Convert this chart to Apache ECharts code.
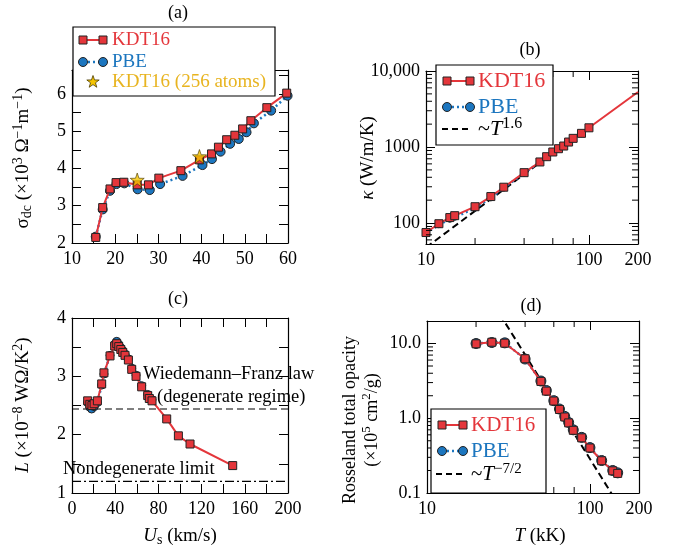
<!DOCTYPE html>
<html><head><meta charset="utf-8">
<script src="https://cdn.jsdelivr.net/npm/echarts@6/dist/echarts.min.js"></script>
<style>html,body{margin:0;padding:0;background:#fff}#c{width:675px;height:558px}</style>
</head><body><div id="c"></div>
<script>
// ---------- (a) conductivity vs T ----------
const aKdtT = [15.5,17.1,18.8,20.2,22.0,25.1,27.7,30.1,35.2,39.5,42.3,43.9,45.8,47.7,49.5,51.4,55.1,59.7];
const aKdtS = [2.15,2.95,3.45,3.62,3.63,3.56,3.56,3.74,3.94,4.23,4.39,4.57,4.77,4.89,5.06,5.28,5.63,6.02];
const aPbeT = [15.5,17.1,18.8,20.3,22.1,25.2,28.0,30.4,35.6,40.2,42.4,44.4,46.6,48.6,50.4,52.1,56.1,59.9];
const aPbeS = [2.17,2.90,3.40,3.58,3.60,3.44,3.42,3.58,3.80,4.09,4.25,4.45,4.66,4.79,4.97,5.21,5.55,5.95];
const aStarT = [25.1,39.5];
const aStarS = [3.69,4.32];
// ---------- (b) thermal conductivity ----------
const bT    = [10,12,14,15,20,25,30,40,50,55,60,65,70,75,80,90,100,200];
const bKdt  = [75,98,118,125,164,223,296,460,636,746,860,950,1030,1163,1300,1513,1790,5300];
const bPbe  = [74,95,112,119,157,214,288,452,630,740,855,945,1025,1155,1290,1500,1780];
const bFitT = [10,50];
const bFitK = [47.6,625];
// ---------- (c) Lorenz number vs Us ----------
const cKdtU = [14.5,16.5,18.5,20.5,23.5,27.5,29.6,35.2,39.5,41.4,43.3,45.2,47.0,49.1,52.2,55.3,59.3,64.5,70.1,71.6,74.1,87.7,98.5,109.3,148.8];
const cKdtL = [2.58,2.52,2.50,2.53,2.58,2.87,3.06,3.35,3.52,3.56,3.51,3.46,3.41,3.36,3.28,3.12,3.00,2.82,2.67,2.62,2.58,2.27,1.98,1.84,1.47];
const cPbeU = [14.5,16.5,18.2,20.5,23.5,27.5,29.6,35.2,39.5,41.4,43.3,45.2,47.0,49.1,52.2,55.3,59.3,64.5,70.1,74.1];
const cPbeL = [2.55,2.47,2.44,2.48,2.55,2.85,3.04,3.36,3.55,3.60,3.55,3.49,3.44,3.38,3.30,3.14,3.02,2.84,2.69,2.60];
const cWfU = [0,200];   const cWfL = [2.44,2.44];
const cNdU = [0,200];   const cNdL = [1.2,1.2];
// ---------- (d) Rosseland opacity ----------
const dT   = [20,25,30,40,50,54,60,65,70,74,79,89,100,118,138,148];
const dKdt = [9.9,10.4,10.1,6.25,3.11,2.31,1.70,1.31,1.04,0.867,0.69,0.547,0.40,0.27,0.198,0.183];
const dPbe = [10.0,10.3,10.2,6.2,3.15,2.35,1.72,1.33,1.06,0.88,0.70,0.555,0.405,0.272,0.2,0.186];
const dFitT = [28,140];
const dFitO = [24.6,0.088];
// ---------- tick values ----------
const aXTicks = {min:10,max:60,step:5,major:10};
const aYTicks = {min:2,max:6.64,step:0.5,major:1};
const cXTicks = {min:0,max:200,step:20,major:40};
const cYTicks = {min:1,max:4,step:0.5,major:1};
const logMinorT = [20,40,60,80];
const bMinorK = [60,70,80,90,200,300,400,500,600,700,800,900,2000,3000,4000,5000,6000,7000,8000,9000];
const dMinorO = [0.2,0.3,0.4,0.5,0.6,0.7,0.8,0.9,2,3,4,5,6,7,8,9];

const F = '"Liberation Serif","Times New Roman",serif';
const RED = '#e4363b', BLUE = '#1c76bf', GOLD = '#f5c400', GOLDTXT = '#e8b420', EDGE = '#222';

const zip = (a,b) => a.map((v,i)=>[v,b[i]]);
const isMult = (v,m) => Math.abs(v/m - Math.round(v/m)) < 1e-6;

function common(){
  return {
    axisLine:{show:true,onZero:false,lineStyle:{color:'#000',width:1.2}},
    axisTick:{show:true,inside:true,length:9,lineStyle:{color:'#000',width:1}},
    splitLine:{show:false},
    axisLabel:{fontFamily:F,fontSize:18,color:'#000'}
  };
}
function linAxis(g,pos,t,labels,margin){
  const ax = common();
  Object.assign(ax,{type:'value',gridIndex:g,position:pos,min:t.min,max:t.max,interval:t.step});
  Object.assign(ax.axisLabel,{show:labels,margin:margin,showMinLabel:true,showMaxLabel:true,
    formatter:v=>isMult(v,t.major)?String(Math.round(v)):''});
  return ax;
}
function logAxis(g,pos,min,max,labels,fmt,margin){
  const ax = common();
  Object.assign(ax,{type:'log',logBase:10,gridIndex:g,position:pos,min:min,max:max});
  Object.assign(ax.axisLabel,{show:labels,margin:margin,showMinLabel:true,showMaxLabel:true,formatter:fmt});
  return ax;
}
const fmtT = v => { const r = Math.round(v); return (r===10||r===100||r===200) ? String(r) : ''; };
const fmtK = v => { const r = Math.round(v); return r===100?'100':r===1000?'1000':r===10000?'10,000':''; };
const fmtO = v => Math.abs(v-0.1)<1e-6?'0.1':Math.abs(v-1)<1e-6?'1.0':Math.abs(v-10)<1e-5?'10.0':'';

function tickSeries(g,vals,side,xr,yr){
  const len = 6;
  const data = vals.map(v => side==='left'?[xr[0],v]:side==='right'?[xr[1],v]:side==='bottom'?[v,yr[0]]:[v,yr[1]]);
  return {type:'custom',xAxisIndex:2*g,yAxisIndex:2*g,silent:true,clip:false,z:6,data:data,
    renderItem:(p,api)=>{
      const c = api.coord([api.value(0),api.value(1)]);
      let x2=c[0], y2=c[1];
      if(side==='left') x2+=len; else if(side==='right') x2-=len; else if(side==='bottom') y2-=len; else y2+=len;
      return {type:'line',shape:{x1:c[0],y1:c[1],x2:x2,y2:y2},style:{stroke:'#000',lineWidth:1}};
    }};
}

const STAR = 'path://M0,-10 L2.35,-3.24 L9.51,-3.09 L3.8,1.24 L5.88,8.09 L0,4 L-5.88,8.09 L-3.8,1.24 L-9.51,-3.09 L-2.35,-3.24 Z';

function kdtSeries(g,data){
  return {type:'line',xAxisIndex:2*g,yAxisIndex:2*g,data:data,symbol:'rect',symbolSize:8,
    lineStyle:{color:RED,width:2},itemStyle:{color:RED,borderColor:EDGE,borderWidth:1},z:4};
}
function pbeSeries(g,data,size){
  return {type:'line',xAxisIndex:2*g,yAxisIndex:2*g,data:data,symbol:'circle',symbolSize:size,
    lineStyle:{color:BLUE,width:2.5,type:[2,3]},itemStyle:{color:BLUE,borderColor:EDGE,borderWidth:1},z:3};
}
function refLine(g,data,dash,width){
  return {type:'line',xAxisIndex:2*g,yAxisIndex:2*g,data:data,symbol:'none',
    lineStyle:{color:'#000',width:width,type:dash},z:2};
}

const grids = [
  {left:72,top:70,width:216,height:173},
  {left:426,top:71,width:212,height:173},
  {left:72,top:318,width:216,height:175},
  {left:427,top:321,width:212,height:172}
].map(g=>Object.assign(g,{containLabel:false,outerBoundsMode:'none'}));

const xAxis = [
  linAxis(0,'bottom',aXTicks,true,7), linAxis(0,'top',aXTicks,false,7),
  logAxis(1,'bottom',10,200,true,fmtT,7), logAxis(1,'top',10,200,false,fmtT,7),
  linAxis(2,'bottom',cXTicks,true,7), linAxis(2,'top',cXTicks,false,7),
  logAxis(3,'bottom',10,200,true,fmtT,7), logAxis(3,'top',10,200,false,fmtT,7)
];
const yAxis = [
  linAxis(0,'left',aYTicks,true,6), linAxis(0,'right',aYTicks,false,6),
  logAxis(1,'left',53,10000,true,fmtK,6), logAxis(1,'right',53,10000,false,fmtK,6),
  linAxis(2,'left',cYTicks,true,6), linAxis(2,'right',cYTicks,false,6),
  logAxis(3,'left',0.1,20,true,fmtO,6), logAxis(3,'right',0.1,20,false,fmtO,6)
];

const bKdtData = bT.map((t,i)=> t===200 ? {value:[t,bKdt[i]],symbol:'none'} : [t,bKdt[i]]);

const series = [
  // (a)
  pbeSeries(0,zip(aPbeT,aPbeS),9),
  kdtSeries(0,zip(aKdtT,aKdtS)),
  {type:'scatter',xAxisIndex:0,yAxisIndex:0,data:zip(aStarT,aStarS),symbol:STAR,symbolSize:14,
   itemStyle:{color:GOLD,borderColor:'#4a3b00',borderWidth:0.8},z:5},
  // (b)
  refLine(1,zip(bFitT,bFitK),[7,4],2),
  pbeSeries(1,zip(bT.slice(0,bPbe.length),bPbe),6),
  kdtSeries(1,bKdtData),
  // (c)
  refLine(2,zip(cWfU,cWfL),[7,4],1.2),
  refLine(2,zip(cNdU,cNdL),[9,3,2,3],1.2),
  pbeSeries(2,zip(cPbeU,cPbeL),8),
  kdtSeries(2,zip(cKdtU,cKdtL)),
  // (d)
  pbeSeries(3,zip(dT,dPbe),10),
  kdtSeries(3,zip(dT,dKdt)),
  refLine(3,zip(dFitT,dFitO),[7,4],2),
  // minor log ticks
  tickSeries(1,bMinorK,'left',[10,200],[53,10000]),
  tickSeries(1,bMinorK,'right',[10,200],[53,10000]),
  tickSeries(1,logMinorT,'bottom',[10,200],[53,10000]),
  tickSeries(1,logMinorT,'top',[10,200],[53,10000]),
  tickSeries(3,dMinorO,'left',[10,200],[0.1,20]),
  tickSeries(3,dMinorO,'right',[10,200],[0.1,20]),
  tickSeries(3,logMinorT,'bottom',[10,200],[0.1,20]),
  tickSeries(3,logMinorT,'top',[10,200],[0.1,20])
];

// ---------- graphic helpers ----------
function richSet(size){
  return {
    i:{fontFamily:F,fontSize:size,fontStyle:'italic',fill:'#000'},
    sub:{fontFamily:F,fontSize:Math.round(size*0.72),fill:'#000',padding:[9,0,0,0]},
    sup:{fontFamily:F,fontSize:Math.round(size*0.72),fill:'#000',padding:[0,0,10,0]}
  };
}
function txt(x,y,s,size,color,opt){
  opt = opt||{};
  const rich = richSet(size);
  if(color!=='#000'){ Object.keys(rich).forEach(k=>rich[k].fill=color); }
  return {type:'text',x:x,y:y,rotation:opt.rot||0,z:120,silent:true,
    style:{text:s,fontFamily:F,fontSize:size,fill:color,rich:rich,
      align:opt.align||'center',textAlign:opt.align||'center',
      verticalAlign:'middle',textVerticalAlign:'middle'}};
}
function box(x,y,w,h){ return {type:'rect',z:100,silent:true,shape:{x:x,y:y,width:w,height:h},style:{fill:'#fff',stroke:'#000',lineWidth:1.2}}; }
function seg(x1,x2,y,color,width,dash){ return {type:'line',z:101,silent:true,shape:{x1:x1,y1:y,x2:x2,y2:y},style:{stroke:color,lineWidth:width,lineDash:dash||null}}; }
function sq(cx,cy,s){ return {type:'rect',z:102,silent:true,shape:{x:cx-s/2,y:cy-s/2,width:s,height:s},style:{fill:RED,stroke:EDGE,lineWidth:1}}; }
function circ(cx,cy,r){ return {type:'circle',z:102,silent:true,shape:{cx:cx,cy:cy,r:r},style:{fill:BLUE,stroke:EDGE,lineWidth:1}}; }
function star(cx,cy,R){
  const pts=[]; for(let k=0;k<10;k++){ const r = k%2===0?R:R*0.4; const a = -Math.PI/2 + k*Math.PI/5; pts.push([cx+r*Math.cos(a),cy+r*Math.sin(a)]); }
  return {type:'polygon',z:102,silent:true,shape:{points:pts},style:{fill:GOLD,stroke:'#4a3b00',lineWidth:0.8}};
}
function legendKP(x1,x2,yK,yP,tx,size){
  return [
    seg(x1,x2,yK,RED,2), sq(x1,yK,8), sq(x2,yK,8), txt(tx,yK,'KDT16',size,RED,{align:'left'}),
    seg(x1,x2,yP,BLUE,2.5,[2,3]), circ(x1,yP,4.5), circ(x2,yP,4.5), txt(tx,yP,'PBE',size,BLUE,{align:'left'})
  ];
}

const graphic = [].concat(
  // panel titles
  [txt(178,13,'(a)',18,'#000'), txt(530,50,'(b)',18,'#000'), txt(178,299,'(c)',18,'#000'), txt(531,306,'(d)',18,'#000')],
  // axis titles
  [txt(23,158,'σ{sub|dc} (×10{sup|3} Ω{sup|−1}m{sup|−1})',19,'#000',{rot:Math.PI/2}),
   txt(368,158,'{i|κ} (W/m/K)',19,'#000',{rot:Math.PI/2}),
   txt(23,405,'{i|L} (×10{sup|−8} WΩ/K{sup|2})',19,'#000',{rot:Math.PI/2}),
   txt(180,536,'{i|U}{sub|s} (km/s)',19,'#000'),
   txt(350,420,'Rosseland total opacity',18,'#000',{rot:Math.PI/2}),
   txt(372,420,'(×10{sup|5} cm{sup|2}/g)',18,'#000',{rot:Math.PI/2}),
   txt(540,536,'{i|T} (kK)',19,'#000')],
  // (c) annotations
  [txt(143,374,'Wiedemann–Franz law',18.5,'#000',{align:'left'}),
   txt(157,397,'(degenerate regime)',18.5,'#000',{align:'left'}),
   txt(63,469,'Nondegenerate limit',18.5,'#000',{align:'left'})],
  // legend (a)
  [box(73,27,202,69)], legendKP(83,103,40,62,112,19),
  [star(93,82,6.5), txt(112,82,'KDT16 (256 atoms)',19,GOLDTXT,{align:'left'})],
  // legend (b)
  [box(436,65,117,80)], legendKP(447,470,81,107,478,22),
  [seg(442,470,129,'#000',2,[6,4]), txt(478,129,'~{i|T}{sup|1.6}',22,'#000',{align:'left'})],
  // legend (d)
  [box(431,409,115,84)], legendKP(442,463,425,451,471,21),
  [seg(436,463,474,'#000',2,[6,4]), txt(471,474,'~{i|T}{sup|−7/2}',21,'#000',{align:'left'})]
);

const chart = echarts.init(document.getElementById('c'),null,{renderer:'canvas'});
chart.setOption({animation:false,backgroundColor:'#fff',grid:grids,xAxis:xAxis,yAxis:yAxis,series:series,graphic:graphic});
</script></body></html>
